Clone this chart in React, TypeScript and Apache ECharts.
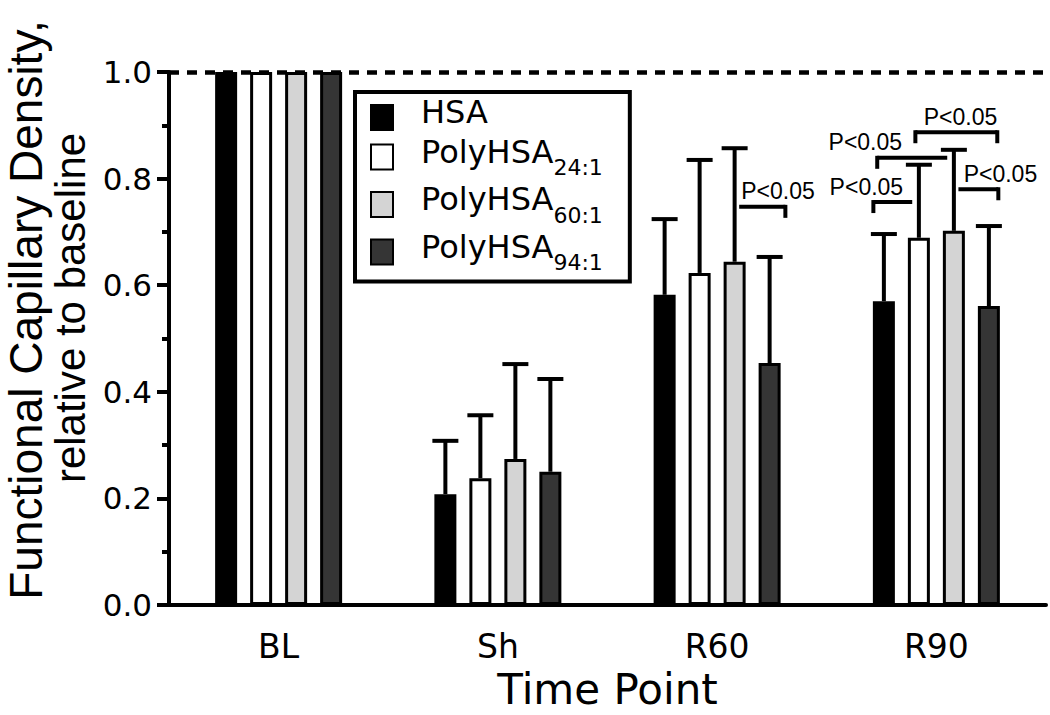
import React, { useEffect, useRef } from 'react';
import * as echarts from 'echarts';

// ---------- data ----------
const categories = ['BL', 'Sh', 'R60', 'R90'];
const seriesNames = ['HSA', 'PolyHSA24:1', 'PolyHSA60:1', 'PolyHSA94:1'];
const hsa = [1.0, 0.208, 0.582, 0.570];
const poly24 = [1.0, 0.238, 0.623, 0.689];
const poly60 = [1.0, 0.274, 0.644, 0.702];
const poly94 = [1.0, 0.250, 0.454, 0.561];
const hsaErr = [0, 0.100, 0.142, 0.126];
const poly24Err = [0, 0.118, 0.212, 0.137];
const poly60Err = [0, 0.178, 0.213, 0.152];
const poly94Err = [0, 0.174, 0.199, 0.150];
const baselineLevel = 1.0;

// significance brackets (category index, level, from-slot, to-slot, left tick, right tick, label slot)
const sigCategory = [2, 3, 3, 3, 3];
const sigLevel = [0.747, 0.756, 0.839, 0.887, 0.780];
const sigFrom = [2.13, -0.3, -0.19, 0.9, 2.13];
const sigTo = [3.45, 0.81, 1.81, 3.24, 3.27];
const sigLeftTick = [0, 1, 1, 1, 0];
const sigRightTick = [1, 0, 0, 1, 1];
const sigLabelSlot = [3.24, -0.5, -0.53, 2.19, 3.33];
const sigLabel = ['P<0.05', 'P<0.05', 'P<0.05', 'P<0.05', 'P<0.05'];

// ---------- style ----------
const colors = ['#000000', '#ffffff', '#d4d4d4', '#353535'];
const BAR_W = 22;
const BAR_STEP = 35;
const SANS = "'DejaVu Sans', Verdana, sans-serif";
const ARIAL = "'Liberation Sans', Arial, sans-serif";
const NARROW = "'Liberation Sans Narrow', 'Liberation Sans', Arial, sans-serif";

const values = [hsa, poly24, poly60, poly94];
const errs = [hsaErr, poly24Err, poly60Err, poly94Err];

export default function App() {
  const ref = useRef<HTMLDivElement>(null);
  useEffect(() => {
    if (!ref.current) return;
    const chart = echarts.init(ref.current, null, { renderer: 'svg' });

    const barSeries = values.map((vals, i) => ({
      type: 'bar',
      name: seriesNames[i],
      data: vals,
      barWidth: BAR_W,
      barGap: ((BAR_STEP - BAR_W) / BAR_W * 100).toFixed(2) + '%',
      itemStyle: { color: colors[i], borderColor: '#000', borderWidth: 3 },
      z: 2,
    }));

    const errSeries = errs.map((e, i) => ({
      type: 'custom',
      name: 'err' + i,
      data: categories.map((_, k) => [k, values[i][k], e[k]]),
      encode: { x: 0, y: 1 },
      z: 3,
      renderItem: (params: any, api: any) => {
        const cat = api.value(0);
        const v = api.value(1);
        const er = api.value(2);
        if (!er) return { type: 'group', children: [] };
        const base = api.coord([cat, v]);
        const top = api.coord([cat, v + er]);
        const x = base[0] + (i - 1.5) * BAR_STEP;
        return {
          type: 'group',
          children: [
            { type: 'line', shape: { x1: x, y1: base[1], x2: x, y2: top[1] }, style: { stroke: '#000', lineWidth: 4 } },
            { type: 'line', shape: { x1: x - 13, y1: top[1], x2: x + 13, y2: top[1] }, style: { stroke: '#000', lineWidth: 4 } },
          ],
        };
      },
    }));

    const sigData = sigCategory.map((c, k) => [c, sigLevel[k], sigFrom[k], sigTo[k], sigLeftTick[k], sigRightTick[k], sigLabelSlot[k], k]);

    const sigSeries = {
      type: 'custom',
      name: 'sig',
      data: sigData,
      encode: { x: 0, y: 1 },
      z: 5,
      renderItem: (params: any, api: any) => {
        const cat = api.value(0);
        const lvl = api.value(1);
        const p = api.coord([cat, lvl]);
        const xl = p[0] + (api.value(2) - 1.5) * BAR_STEP;
        const xr = p[0] + (api.value(3) - 1.5) * BAR_STEP;
        const xt = p[0] + (api.value(6) - 1.5) * BAR_STEP;
        const y = p[1];
        const children: any[] = [
          { type: 'line', shape: { x1: xl, y1: y, x2: xr, y2: y }, style: { stroke: '#000', lineWidth: 4 } },
        ];
        if (api.value(4)) children.push({ type: 'line', shape: { x1: xl, y1: y - 2, x2: xl, y2: y + 11 }, style: { stroke: '#000', lineWidth: 4 } });
        if (api.value(5)) children.push({ type: 'line', shape: { x1: xr, y1: y - 2, x2: xr, y2: y + 11 }, style: { stroke: '#000', lineWidth: 4 } });
        children.push({
          type: 'text',
          x: xt,
          y: y - 4,
          style: {
            text: sigLabel[api.value(7)],
            fill: '#000',
            font: `23px ${NARROW}`,
            align: 'center',
            verticalAlign: 'bottom',
            textAlign: 'center',
            textVerticalAlign: 'bottom',
          },
        });
        return { type: 'group', children };
      },
      markLine: {
        silent: true,
        symbol: 'none',
        label: { show: false },
        lineStyle: { type: [10, 8], width: 4.5, color: '#000' },
        data: [{ yAxis: baselineLevel }],
      },
    };

    chart.setOption({
      animation: false,
      backgroundColor: '#fff',
      grid: { left: 169, right: 4, top: 72, bottom: 110, outerBoundsMode: 'none', containLabel: false },
      xAxis: {
        type: 'category',
        data: categories,
        axisLine: { lineStyle: { color: '#000', width: 4 } },
        axisTick: { alignWithLabel: true, length: 13, lineStyle: { color: '#000', width: 4 } },
        axisLabel: { color: '#000', fontFamily: SANS, fontSize: 33, margin: 25 },
        name: 'Time Point',
        nameLocation: 'middle',
        nameGap: 67,
        nameTextStyle: { color: '#000', fontFamily: SANS, fontSize: 42, lineHeight: 34 },
      },
      yAxis: {
        type: 'value',
        min: 0,
        max: 1,
        interval: 0.2,
        axisLine: { show: true, lineStyle: { color: '#000', width: 4 } },
        axisTick: { show: true, length: 12, lineStyle: { color: '#000', width: 4 } },
        minorTick: { show: true, splitNumber: 2, length: 7, lineStyle: { color: '#000', width: 4 } },
        splitLine: { show: false },
        axisLabel: { color: '#000', fontFamily: SANS, fontSize: 31, margin: 17, formatter: (v: number) => v.toFixed(1) },
      },
      legend: {
        orient: 'vertical',
        left: 355,
        top: 92,
        itemWidth: 22,
        itemHeight: 25,
        itemGap: 4.5,
        icon: 'rect',
        padding: [4, 27, 8, 15],
        borderColor: '#000',
        borderWidth: 4,
        backgroundColor: '#fff',
        data: seriesNames,
        formatter: (name: string) => (name === 'HSA' ? '{a|HSA}' : `{a|PolyHSA}{b|${name.slice(7)}}`),
        textStyle: {
          color: '#000',
          fontFamily: SANS,
          fontSize: 32,
          rich: {
            a: { color: '#000', fontFamily: SANS, fontSize: 32, lineHeight: 43, verticalAlign: 'top', padding: [0, 0, 0, 23] },
            b: { color: '#000', fontFamily: SANS, fontSize: 22, lineHeight: 24, verticalAlign: 'bottom' },
          },
        },
      },
      graphic: [
        {
          type: 'text',
          x: 26,
          y: 310,
          rotation: Math.PI / 2,
          style: {
            text: 'Functional Capillary Density,',
            fill: '#000',
            font: `46px ${ARIAL}`,
            align: 'center',
            verticalAlign: 'middle',
            textAlign: 'center',
            textVerticalAlign: 'middle',
          },
        },
        {
          type: 'text',
          x: 70,
          y: 308,
          rotation: Math.PI / 2,
          style: {
            text: 'relative to baseline',
            fill: '#000',
            font: `42px ${ARIAL}`,
            align: 'center',
            verticalAlign: 'middle',
            textAlign: 'center',
            textVerticalAlign: 'middle',
          },
        },
      ],
      series: [...barSeries, ...errSeries, sigSeries],
    });
    return () => chart.dispose();
  }, []);
  return <div ref={ref} style={{ position: 'fixed', left: 0, top: 0, width: 1050, height: 715 }} />;
}
